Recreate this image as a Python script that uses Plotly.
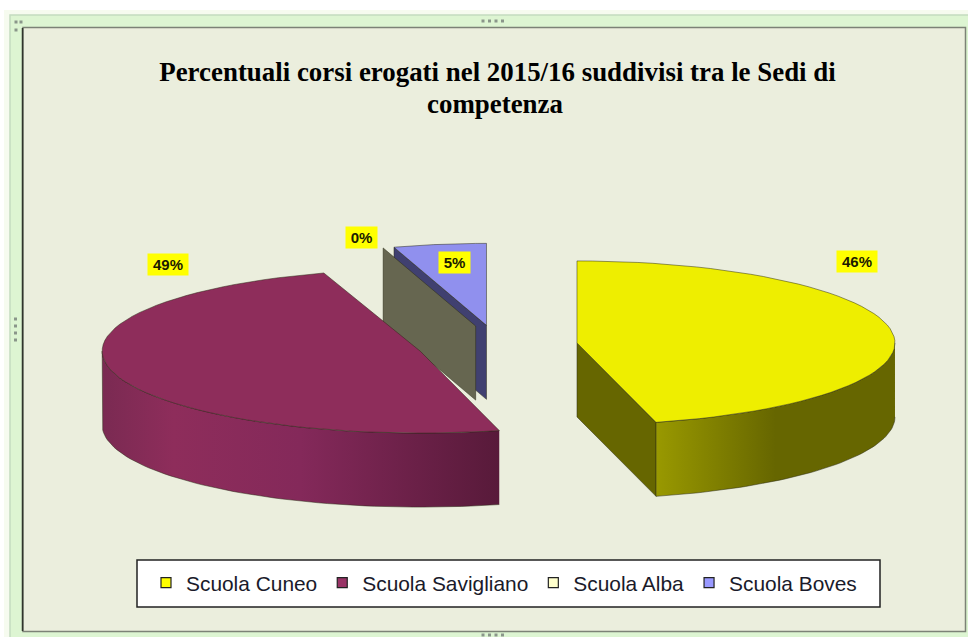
import math
import plotly.graph_objects as go

# ---- data ----
categories = ["Scuola Cuneo", "Scuola Savigliano", "Scuola Alba", "Scuola Boves"]
values = [46.0, 49.1, 0.0, 4.9]
shown_labels = ["46%", "49%", "0%", "5%"]

# ---- styles ----
top_colors = ["#EEEE00", "#8E2D5B", "#6A6A52", "#9090EE"]
wall_colors = ["#666600", "#5E1C3C", "#666650", "#404070"]
legend_colors = ["#FFFF00", "#993366", "#FFFFCC", "#9999FF"]
side_scales = {
    0: [[0, "#999900"], [0.5, "#666600"], [1, "#666600"]],
    1: [[0, "#7A2A52"], [0.18, "#8E2D5B"], [0.5, "#84295A"], [1, "#581A3A"]],
}
# label anchor per slice, angle in degrees clockwise from the top / radius factor
label_angle = [41.5, 323.2, 341.7, 352.6]
label_radius = [1.33, 1.325, 1.143, 0.776]
# the original's perspective draws the far slices slightly narrower and offset
rx_scale = [1.0, 1.0, 0.96, 0.96]
x_shift = [0.0, -2.5, 1.0, 0.0]

# ---- pie projection (axes are in canvas pixels) ----
W, H = 968, 637
CX, CY = 498.6, 345.5
RX, RY = 318.0, 82.0
DEPTH, EXPLODE = 74.0, 79.0
EDGE = "rgba(40,40,20,0.7)"


def point(cx, cy, deg, r=1.0, sx=1.0):
    a = math.radians(deg)
    return cx + RX * sx * r * math.sin(a), cy - RY * r * math.cos(a)


def arc(cx, cy, a0, a1, sx=1.0, n=60):
    pts = [point(cx, cy, a0 + (a1 - a0) * i / n, 1.0, sx) for i in range(n + 1)]
    return [p[0] for p in pts], [p[1] for p in pts]


total = sum(values)
starts, ends, centers = [], [], []
acc = 0.0
for i, v in enumerate(values):
    a0 = acc
    acc += v / total * 360
    starts.append(a0)
    ends.append(acc)
    mid = (a0 + acc) / 2
    cx, cy = point(CX, CY, mid, EXPLODE / RX)
    centers.append((cx + x_shift[i], cy))

fig = go.Figure()


def poly(xs, ys, color=None, i=0, gradient=None):
    kw = dict(fillgradient=gradient) if gradient else dict(fillcolor=color)
    fig.add_trace(go.Scatter(
        x=xs, y=ys, mode="lines", fill="toself", line=dict(color=EDGE, width=0.7),
        legendgroup=categories[i], showlegend=False, hoverinfo="skip", **kw))


def wall(i, deg):
    cx, cy = centers[i]
    px, py = point(cx, cy, deg, 1.0, rx_scale[i])
    poly([cx, cx, px, px, cx], [cy, cy + DEPTH, py + DEPTH, py, cy], wall_colors[i], i)


def top(i):
    cx, cy = centers[i]
    xs, ys = arc(cx, cy, starts[i], ends[i], rx_scale[i])
    poly([cx] + xs + [cx], [cy] + ys + [cy], top_colors[i], i)


def side(i, a0, a1):
    cx, cy = centers[i]
    xs, ys = arc(cx, cy, a0, a1, rx_scale[i])
    poly(xs + xs[::-1], ys + [y + DEPTH for y in ys[::-1]], i=i,
         gradient=dict(type="horizontal", colorscale=side_scales[i]))


# back to front: Boves, Alba, Savigliano, Cuneo
wall(3, starts[3])
top(3)
wall(2, starts[2])
side(1, ends[0], 270)
top(1)
wall(0, ends[0])
side(0, 90, ends[0])
top(0)

# legend entries
for name, color in zip(categories, legend_colors):
    fig.add_trace(go.Scatter(
        x=[None], y=[None], mode="markers", name=name, legendgroup=name,
        marker=dict(symbol="square", size=10, color=color, line=dict(color="#222222", width=1.2))))

# data labels
annotations = []
for i, txt in enumerate(shown_labels):
    x, y = point(centers[i][0], centers[i][1], label_angle[i], label_radius[i])
    annotations.append(dict(
        x=x, y=y, xref="x", yref="y", text=f"<b>{txt}</b>", showarrow=False,
        bgcolor="#FFFF00", borderpad=2, width=36 if len(txt) == 3 else 27,
        font=dict(family="Liberation Sans", size=15, color="#1A1A00")))

# second title line keeps the original's wider line pitch
annotations.append(dict(
    x=494.5, y=104, xref="x", yref="y", showarrow=False, text="<b>competenza</b>",
    font=dict(family="Liberation Serif", size=26.9, color="#000000")))

# chart frame, legend box and sizing handles
shapes = [
    dict(type="rect", x0=4, y0=10, x1=985, y1=650, line=dict(width=0),
         fillcolor="#F6FBEF", layer="below"),
    dict(type="rect", x0=10, y0=15, x1=975, y1=645, line=dict(color="#C4DCC0", width=1.5),
         fillcolor="#DDF5D2", layer="below"),
    dict(type="rect", x0=23, y0=27.5, x1=965.5, y1=631.5, line=dict(color="#7C8276", width=1.5),
         fillcolor="#EBEEDD", layer="below"),
    dict(type="line", x0=22.5, y0=28, x1=22.5, y1=631, line=dict(color="#30342C", width=1.5), layer="below"),
    dict(type="rect", x0=137, y0=560, x1=880, y1=607, line=dict(color="#222222", width=1.5),
         fillcolor="#FFFFFF", layer="below"),
]
for hx, hy in [(483 + 6.5 * k, 21) for k in range(4)] + [(483 + 6.5 * k, 635) for k in range(4)] \
        + [(15.5, 319 + 7.0 * k) for k in range(4)] + [(16, 22), (21, 22), (16, 30)]:
    shapes.append(dict(type="rect", x0=hx - 1.5, y0=hy - 1.5, x1=hx + 1.5, y1=hy + 1.5,
                       line=dict(width=0), fillcolor="#8A968A", layer="below"))

fig.update_layout(
    width=W, height=H, autosize=False,
    margin=dict(l=0, r=0, t=0, b=0, pad=0),
    paper_bgcolor="#FFFFFF", plot_bgcolor="rgba(0,0,0,0)",
    xaxis=dict(range=[0, W], visible=False, fixedrange=True),
    yaxis=dict(range=[H, 0], visible=False, fixedrange=True),
    title=dict(text="<b>Percentuali corsi erogati nel 2015/16 suddivisi tra le Sedi di</b>",
               x=497.5 / W, xanchor="center", y=1 - 72 / H, yanchor="middle",
               font=dict(family="Liberation Serif", size=26.9, color="#000000")),
    legend=dict(orientation="h", x=146 / W, xanchor="left", y=1 - 583 / H, yanchor="middle",
                bgcolor="rgba(0,0,0,0)", borderwidth=0,
                font=dict(family="Liberation Sans", size=20.9, color="#1A1A2A")),
    shapes=shapes, annotations=annotations, showlegend=True,
)

fig.write_html("out.html", config=dict(displayModeBar=False),
               post_script="document.body.style.margin='0';document.documentElement.style.overflow='hidden';")
